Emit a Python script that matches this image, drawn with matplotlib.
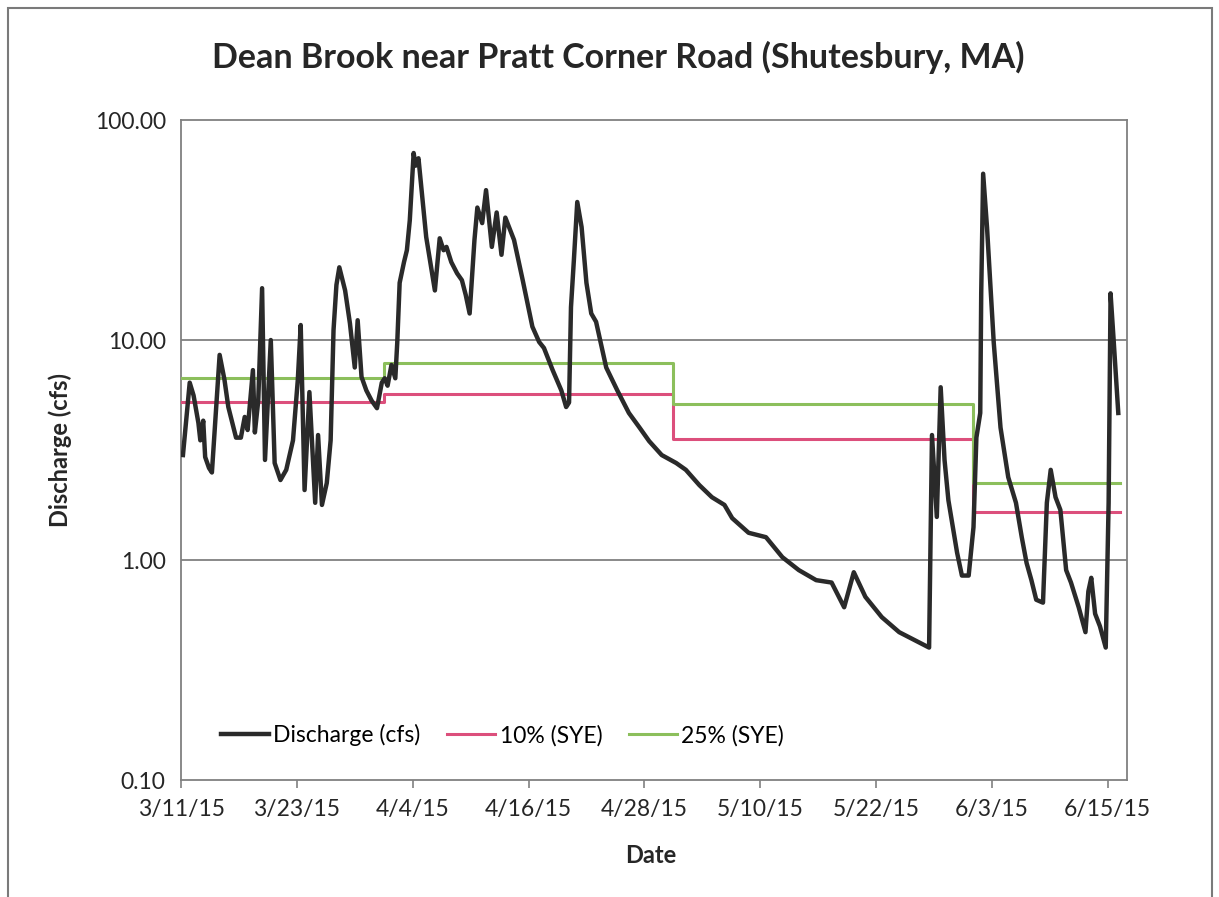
import datetime as dt
import matplotlib
matplotlib.use("Agg")
import matplotlib.pyplot as plt
import matplotlib.dates as mdates
from matplotlib.ticker import FixedLocator, FuncFormatter, NullLocator
from matplotlib.patches import Rectangle

plt.rcParams['font.family'] = ['Lato', 'DejaVu Sans']

start = dt.datetime(2015, 3, 11)

# discharge record, days after 3/11/15 and cfs
flow_days = [0.2, 0.9, 1.3, 1.8, 2.0, 2.3, 2.5, 2.9, 3.2, 4.0, 4.5, 4.9, 5.7, 6.2, 6.6, 6.9,
             7.45, 7.65, 8.0, 8.4, 8.7, 9.3, 9.7, 10.3, 10.9, 11.6, 12.1, 12.4, 12.8, 13.3,
             13.9, 14.2, 14.6, 15.1, 15.5, 15.8, 16.1, 16.4, 17.0, 17.5, 18.0, 18.3, 18.7,
             19.2, 19.75, 20.3, 20.8, 21.1, 21.4, 21.8, 22.2, 22.4, 22.65, 23.1, 23.4, 23.7,
             24.1, 24.3, 24.6, 25.4, 26.3, 26.8, 27.2, 27.5, 28.0, 28.6, 29.1, 29.5, 29.9,
             30.4, 30.7, 31.2, 31.6, 32.2, 32.7, 33.2, 33.6, 34.5, 35.4, 36.4, 37.1, 37.6,
             38.5, 39.4, 39.9, 40.2, 40.4, 40.7, 41.05, 41.5, 42.0, 42.5, 43.0, 44.05, 45.2,
             46.4, 47.5, 48.5, 49.8, 51.3, 52.3, 53.7, 55.0, 56.3, 57.1, 58.8, 60.6, 62.3,
             64.0, 65.8, 67.4, 68.7, 69.7, 70.9, 72.6, 74.4, 76.1, 77.5, 77.8, 78.3, 78.7,
             79.1, 79.5, 80.4, 80.9, 81.6, 82.1, 82.4, 82.8, 82.9, 83.1, 83.5, 84.2, 84.9,
             85.7, 86.5, 87.1, 87.6, 88.1, 88.6, 89.3, 89.7, 90.1, 90.6, 91.1, 91.7, 92.2,
             93.0, 93.7, 94.0, 94.3, 94.7, 95.2, 95.8, 96.1, 96.3, 96.6, 97.1]
flow_cfs = [3.0, 6.4, 5.6, 4.2, 3.5, 4.3, 2.94, 2.62, 2.5, 8.56, 6.6, 4.96, 3.6, 3.6, 4.47, 3.9,
            7.3, 3.8, 5.3, 17.2, 2.85, 10.0, 2.76, 2.31, 2.57, 3.5, 6.6, 11.7, 2.08, 5.8,
            1.82, 3.7, 1.78, 2.24, 3.5, 11.1, 17.8, 21.4, 16.8, 11.9, 7.5, 12.3, 6.8,
            5.9, 5.3, 4.9, 6.4, 6.7, 6.2, 7.7, 6.7, 9.7, 18.2, 22.6, 25.6, 35.0,
            70.8, 62.0, 67.0, 29.4, 16.8, 29.0, 25.6, 26.5, 22.6, 20.1, 18.7, 16.0, 13.2,
            28.5, 40.0, 34.0, 48.0, 26.5, 38.0, 24.4, 36.0, 28.5, 18.7, 11.5, 9.8, 9.2,
            7.3, 5.9, 4.96, 5.2, 14.1, 23.1, 42.4, 32.6, 18.2, 13.2, 12.1, 7.5, 5.9,
            4.66, 4.0, 3.47, 3.0, 2.76, 2.57, 2.19, 1.93, 1.78, 1.55, 1.33, 1.27, 1.03,
            0.90, 0.81, 0.79, 0.61, 0.88, 0.68, 0.55, 0.47, 0.43, 0.40, 3.7, 1.57, 6.1,
            2.85, 1.87, 1.08, 0.85, 0.85, 1.41, 3.6, 4.66, 16.3, 57.0, 32.6, 9.7, 4.0,
            2.38, 1.82, 1.27, 0.97, 0.81, 0.66, 0.64, 1.82, 2.57, 1.93, 1.69, 0.90, 0.79,
            0.61, 0.47, 0.72, 0.83, 0.57, 0.50, 0.40, 1.82, 16.3, 10.3, 4.66]

# monthly streamflow thresholds (SYE)
step_days = [0, 21, 51, 82, 97.3]
sye_10 = [5.23, 5.69, 3.55, 1.65]
sye_25 = [6.7, 7.87, 5.11, 2.24]

y_ticks = [0.1, 1, 10, 100]
x_tick_days = [0, 12, 24, 36, 48, 60, 72, 84, 96]

flow_dates = [start + dt.timedelta(days=d) for d in flow_days]
step_dates = [start + dt.timedelta(days=d) for d in step_days]

fig = plt.figure(figsize=(12.19, 8.97), dpi=100)
ax = fig.add_axes([0.1485, 0.1304, 0.776, 0.7358])

ax.plot(flow_dates, flow_cfs, color='#2a2a2a', lw=3.2, solid_joinstyle='round',
        label='Discharge (cfs)', zorder=4)
ax.step(step_dates, sye_10 + sye_10[-1:], where='post', color='#dc4f7c', lw=2.2,
        label='10% (SYE)', zorder=3)
ax.step(step_dates, sye_25 + sye_25[-1:], where='post', color='#8cbf5c', lw=2.2,
        label='25% (SYE)', zorder=3)

ax.set_yscale('log')
ax.set_ylim(0.1, 100)
ax.yaxis.set_major_locator(FixedLocator(y_ticks))
ax.yaxis.set_minor_locator(NullLocator())
ax.yaxis.set_major_formatter(FuncFormatter(lambda v, p: '{:.2f}'.format(v)))
for v in y_ticks[1:3]:
    ax.axhline(v, color='#808080', lw=1.3, zorder=1)

ax.set_xlim(start, start + dt.timedelta(days=98))
ax.set_xticks([start + dt.timedelta(days=d) for d in x_tick_days])
ax.xaxis.set_major_formatter(FuncFormatter(
    lambda v, p: '{d.month}/{d.day}/{y}'.format(d=mdates.num2date(v), y=mdates.num2date(v).strftime('%y'))))

ax.tick_params(axis='x', length=6, width=1.2, color='#808080', labelsize=16.5, pad=8,
               labelcolor='#262626')
ax.tick_params(axis='y', length=0, labelsize=16.5, pad=11, labelcolor='#262626')
for s in ax.spines.values():
    s.set_color('#808080')
    s.set_linewidth(1.3)

ax.set_xlabel('Date', fontsize=17, fontweight='bold', color='#262626')
ax.xaxis.set_label_coords(0.497, -0.114)
ax.xaxis.label.set_va('center')
ax.set_ylabel('Discharge (cfs)', fontsize=17, fontweight='bold', color='#262626')
ax.yaxis.set_label_coords(-0.128, 0.5)
ax.yaxis.label.set_va('center')
fig.suptitle('Dean Brook near Pratt Corner Road (Shutesbury, MA)', fontsize=24.5,
             fontweight='bold', x=0.507, y=1 - 57 / 897, va='center', color='#262626')

ax.legend(loc='lower left', bbox_to_anchor=(0.02, 0.02), ncol=3, frameon=False,
          fontsize=16.5, handlelength=2.1, handletextpad=0.2, columnspacing=1.15)

fig.patches.append(Rectangle((8 / 1219, -0.02), 1204 / 1219, 1 - 8 / 897 + 0.02,
                             transform=fig.transFigure, fill=False,
                             edgecolor='#7a7a7a', lw=1.5))

fig.savefig('out.png', dpi=100)
